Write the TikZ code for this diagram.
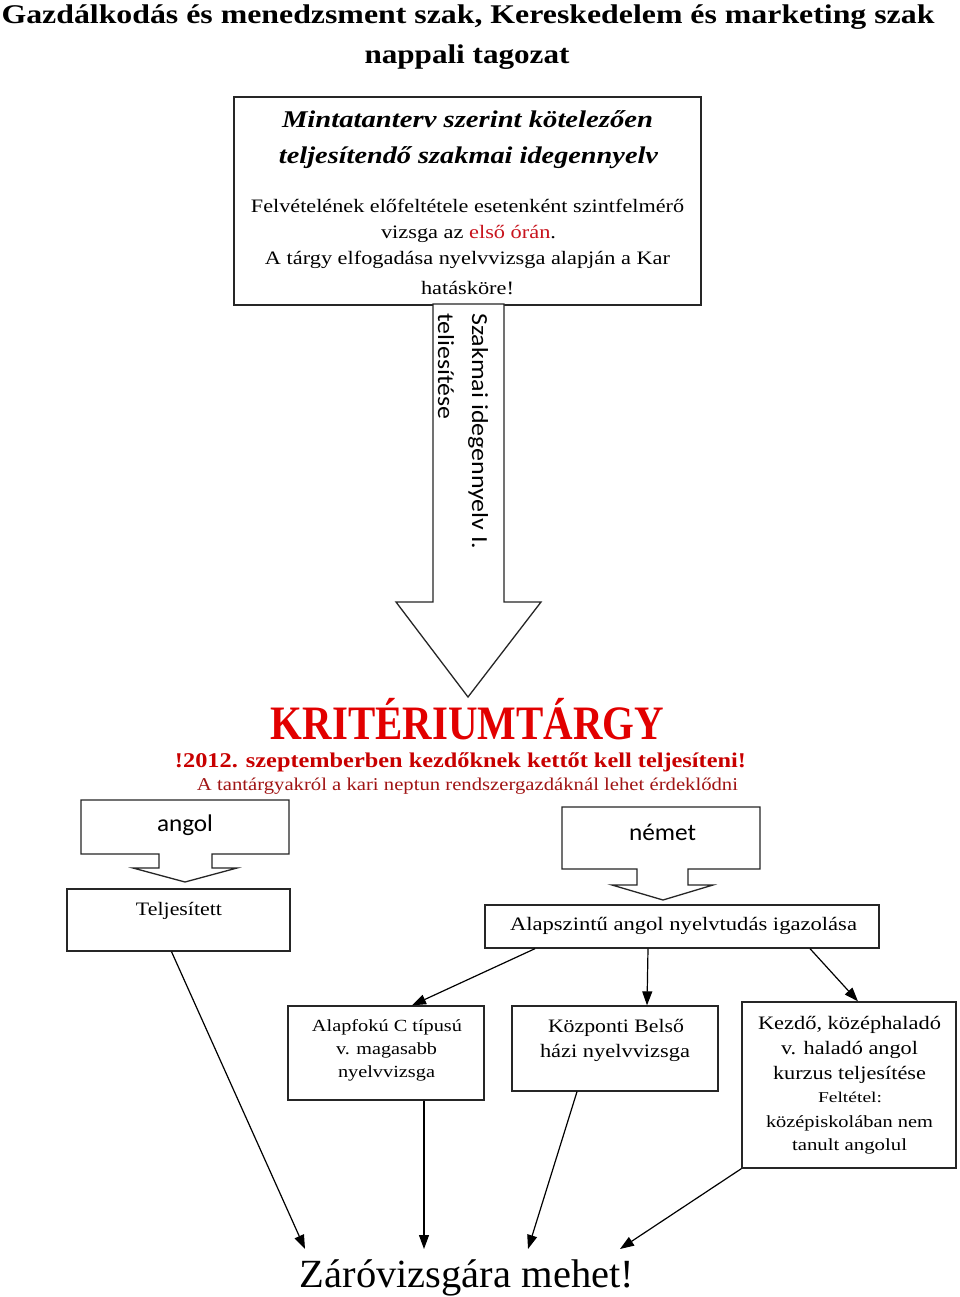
\documentclass[tikz,border=0pt]{standalone}
\usepackage{fontspec}
\setmainfont{Liberation Serif}
\newfontfamily\calib{Carlito}
\usepackage{graphicx}
\usetikzlibrary{arrows.meta}
\newcommand\fw[2]{\resizebox{#1pt}{\height}{#2}}
\definecolor{kred}{RGB}{226,0,0}
\definecolor{dred}{RGB}{200,0,0}
\definecolor{bred}{RGB}{160,20,20}
\definecolor{ored}{RGB}{200,20,30}
\begin{document}
\begin{tikzpicture}[x=1pt,y=-1pt,
 box/.style={draw=black!85, line width=1.3pt, fill=white, inner sep=0pt, rectangle},
 txt/.style={inner sep=0pt, anchor=base},
 arr/.style={-{Triangle[length=14pt,width=10pt]}, line width=1.2pt},
 shp/.style={draw=black!85, line width=1.3pt, fill=white, line join=miter}]
\fill[white] (0,0) rectangle (960,1297);
\useasboundingbox (0,0) rectangle (960,1297);

% title
\node[txt, font=\fontsize{27}{32}\selectfont\bfseries] (title1) at (468,24) {\fw{933}{Gazdálkodás és menedzsment szak, Kereskedelem és marketing szak}};
\node[txt, font=\fontsize{27}{32}\selectfont\bfseries] (title2) at (467,64) {\fw{205}{nappali tagozat}};

% top box
\node[box, minimum width=467pt, minimum height=208pt] (top) at (467.5,201) {};
\node[txt, font=\fontsize{24}{29}\selectfont\bfseries\itshape] (h1) at (467.5,128) {\fw{371}{Mintatanterv szerint kötelezően}};
\node[txt, font=\fontsize{24}{29}\selectfont\bfseries\itshape] (h2) at (468.5,164) {\fw{379}{teljesítendő szakmai idegennyelv}};
\node[txt, font=\fontsize{19}{23}\selectfont] (b1) at (467.5,213) {\fw{433}{Felvételének előfeltétele esetenként szintfelmérő}};
\node[txt, font=\fontsize{19}{23}\selectfont] (b2) at (468.5,239) {\fw{175}{vizsga az \textcolor{ored}{első órán}.}};
\node[txt, font=\fontsize{19}{23}\selectfont] (b3) at (467.5,265) {\fw{405}{A tárgy elfogadása nyelvvizsga alapján a Kar}};
\node[txt, font=\fontsize{19}{23}\selectfont] (b4) at (467.5,294) {\fw{93}{hatásköre!}};

% big arrow
\draw[shp] (433,304) -- (504,304) -- (504,602) -- (541,602) -- (468,697) -- (396,602) -- (433,602) -- cycle;
\node[inner sep=0pt, anchor=base west, rotate=-90, font=\calib\fontsize{23}{28}\selectfont] (ar1) at (472,313) {\fw{236}{Szakmai idegennyelv I.}};
\node[inner sep=0pt, anchor=base west, rotate=-90, font=\calib\fontsize{23}{28}\selectfont] (ar2) at (438,313) {\fw{106}{teliesítése}};

% kriterium
\node[txt, font=\fontsize{48}{58}\selectfont\bfseries, text=kred] (krit) at (467.5,739) {\fw{393}{KRITÉRIUMTÁRGY}};
\node[txt, font=\fontsize{21}{25}\selectfont\bfseries, text=dred] (k2) at (460.5,767) {\fw{571}{!2012. szeptemberben kezdőknek kettőt kell teljesíteni!}};
\node[txt, font=\fontsize{18}{22}\selectfont, text=bred] (k3) at (467.5,790) {\fw{541}{A tantárgyakról a kari neptun rendszergazdáknál lehet érdeklődni}};

% angol callout
\draw[shp] (81,800) -- (289,800) -- (289,854) -- (212,854) -- (212,868) -- (237,868) -- (185,882) -- (133,868) -- (159,868) -- (159,854) -- (81,854) -- cycle;
\node[txt, font=\calib\fontsize{24}{29}\selectfont] (angol) at (185,831) {\fw{56}{angol}};
% nemet callout
\draw[shp] (562,807) -- (760,807) -- (760,869) -- (688,869) -- (688,885) -- (713,885) -- (663,900) -- (612,885) -- (637,885) -- (637,869) -- (562,869) -- cycle;
\node[txt, font=\calib\fontsize{24}{29}\selectfont] (nemet) at (662.5,840) {\fw{67}{német}};

% boxes
\node[box, minimum width=223pt, minimum height=62pt] (teljes) at (178.5,920) {};
\node[txt, font=\fontsize{19}{23}\selectfont] (teljest) at (179,915) {\fw{86}{Teljesített}};
\node[box, minimum width=394pt, minimum height=43pt] (alap) at (682,926.5) {};
\node[txt, font=\fontsize{19}{23}\selectfont] (alapt) at (683.5,930) {\fw{347}{Alapszintű angol nyelvtudás igazolása}};

\node[box, minimum width=196pt, minimum height=94pt] (alapfoku) at (386,1053) {};
\node[txt, font=\fontsize{17}{21}\selectfont] (af1) at (387,1031) {\fw{150}{Alapfokú C típusú}};
\node[txt, font=\fontsize{17}{21}\selectfont] (af2) at (386.5,1054) {\fw{101}{v. magasabb}};
\node[txt, font=\fontsize{17}{21}\selectfont] (af3) at (386.5,1077) {\fw{97}{nyelvvizsga}};

\node[box, minimum width=206pt, minimum height=85pt] (kozp) at (615,1048.5) {};
\node[txt, font=\fontsize{19}{23}\selectfont] (kz1) at (616,1032) {\fw{136}{Központi Belső}};
\node[txt, font=\fontsize{19}{23}\selectfont] (kz2) at (615,1057) {\fw{150}{házi nyelvvizsga}};

\node[box, minimum width=214pt, minimum height=166pt] (kezdo) at (849,1085) {};
\node[txt, font=\fontsize{19}{23}\selectfont] (kd1) at (849.5,1029) {\fw{183}{Kezdő, középhaladó}};
\node[txt, font=\fontsize{19}{23}\selectfont] (kd2) at (849.5,1054) {\fw{137}{v. haladó angol}};
\node[txt, font=\fontsize{19}{23}\selectfont] (kd3) at (849.5,1079) {\fw{153}{kurzus teljesítése}};
\node[txt, font=\fontsize{15}{18}\selectfont] (kd4) at (850,1102) {\fw{64}{Feltétel:}};
\node[txt, font=\fontsize{17}{21}\selectfont] (kd5) at (849.5,1127) {\fw{167}{középiskolában nem}};
\node[txt, font=\fontsize{17}{21}\selectfont] (kd6) at (849.5,1150) {\fw{115}{tanult angolul}};

% final
\node[txt, font=\fontsize{40}{48}\selectfont] (zaro) at (467,1287) {\fw{334}{Záróvizsgára mehet!}};

% connectors
\draw[arr] ([xshift=-147pt]alap.south) -- ([xshift=26pt]alapfoku.north);
\draw[arr] ([xshift=-34pt]alap.south) -- ([xshift=32pt]kozp.north);
\draw[arr] ([xshift=128pt]alap.south) -- ([xshift=9pt]kezdo.north);

\draw[arr] ([xshift=-7pt]teljes.south) -- ([xshift=-162pt,yshift=10pt]zaro.north);
\draw[arr] ([xshift=38pt]alapfoku.south) -- ([xshift=-43pt,yshift=10pt]zaro.north);
\draw[arr] ([xshift=-38pt]kozp.south) -- ([xshift=61pt,yshift=10pt]zaro.north);
\draw[arr] (kezdo.south west) -- ([xshift=153pt,yshift=10pt]zaro.north);
\end{tikzpicture}
\end{document}
